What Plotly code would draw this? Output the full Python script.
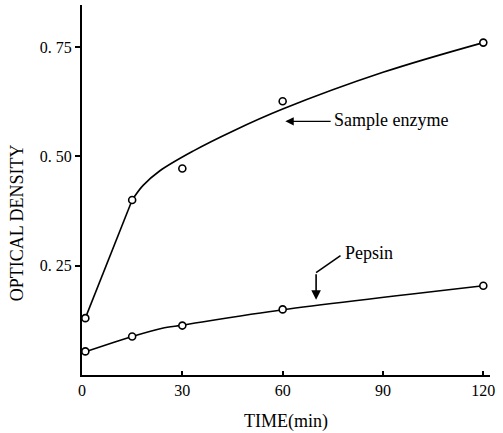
import plotly.graph_objects as go

# measured points
time_pts = [1, 15, 30, 60, 120]
enzyme_od = [0.13, 0.40, 0.472, 0.626, 0.76]
pepsin_od = [0.054, 0.088, 0.113, 0.150, 0.204]

# hand-drawn fitted curves (knots)
enzyme_line_t = [1, 15]
enzyme_line_od = [0.13, 0.40]
enzyme_curve_t = [15, 18.2, 23.3, 33.2, 45.2, 60, 90, 120]
enzyme_curve_od = [0.40, 0.433, 0.467, 0.512, 0.558, 0.608, 0.692, 0.76]
pepsin_curve_t = [1, 15, 24, 30, 60, 120]
pepsin_curve_od = [0.053, 0.088, 0.107, 0.114, 0.149, 0.204]

x_ticks = [0, 30, 60, 90, 120]
x_ticktext = ["0", "30", "60", "90", "120"]
y_ticks = [0.25, 0.50, 0.75]
y_ticktext = ["0. 25", "0. 50", "0. 75"]

FONT = "Liberation Serif"

fig = go.Figure()
fig.add_trace(go.Scatter(x=enzyme_line_t, y=enzyme_line_od, mode="lines",
                         line=dict(color="black", width=1.6),
                         hoverinfo="skip", showlegend=False))
fig.add_trace(go.Scatter(x=enzyme_curve_t, y=enzyme_curve_od, mode="lines",
                         line=dict(color="black", width=1.6, shape="spline", smoothing=1.0),
                         hoverinfo="skip", showlegend=False))
fig.add_trace(go.Scatter(x=pepsin_curve_t, y=pepsin_curve_od, mode="lines",
                         line=dict(color="black", width=1.6, shape="spline", smoothing=0.8),
                         hoverinfo="skip", showlegend=False))
for ys in (enzyme_od, pepsin_od):
    fig.add_trace(go.Scatter(x=time_pts, y=ys, mode="markers",
                             marker=dict(symbol="circle", size=7, color="white",
                                         line=dict(color="black", width=1.6)),
                             showlegend=False))

# annotation: Sample enzyme
fig.add_annotation(x=60.8, y=0.58, ax=74.8, ay=0.58, axref="x", ayref="y",
                   xref="x", yref="y", text="", showarrow=True,
                   arrowhead=2, arrowsize=1.2, arrowwidth=1.4, arrowcolor="black")
fig.add_annotation(x=74.8, y=0.582, xref="x", yref="y", text="Sample enzyme",
                   showarrow=False, xanchor="left", yanchor="middle",
                   font=dict(family=FONT, size=18, color="black"))

# annotation: Pepsin (bent arrow)
fig.add_shape(type="line", x0=77.3, y0=0.273, x1=70.0, y1=0.234,
              xref="x", yref="y", line=dict(color="black", width=1.6))
fig.add_annotation(x=70.0, y=0.172, ax=70.0, ay=0.234, axref="x", ayref="y",
                   xref="x", yref="y", text="", showarrow=True,
                   arrowhead=2, arrowsize=1.2, arrowwidth=1.6, arrowcolor="black")
fig.add_annotation(x=78.0, y=0.278, xref="x", yref="y", text="Pepsin",
                   showarrow=False, xanchor="left", yanchor="middle",
                   font=dict(family=FONT, size=18, color="black"))

# y-axis title placed like the original (below centre)
fig.add_annotation(x=0, y=0, xref="paper", yref="paper", text="OPTICAL DENSITY",
                   showarrow=False, textangle=-90, xanchor="center", yanchor="middle",
                   font=dict(family=FONT, size=18, color="black"))

fig.update_layout(
    width=503, height=433,
    margin=dict(l=82, r=13, t=5, b=55),
    paper_bgcolor="white", plot_bgcolor="white",
    font=dict(family=FONT, size=16, color="black"),
    showlegend=False,
)
ann = fig.layout.annotations[-1]
ann.x = (17 - 82) / (503 - 82 - 13)
ann.y = (433 - 55 - 225) / (433 - 55 - 5)

fig.update_xaxes(range=[0, 122], tickvals=x_ticks, ticktext=x_ticktext,
                 showgrid=False, zeroline=False, showline=True, linecolor="black",
                 linewidth=2, ticks="inside", ticklen=4, tickwidth=1.5, tickcolor="black",
                 title=dict(text="TIME(min)", font=dict(family=FONT, size=18), standoff=16),
                 tickfont=dict(family=FONT, size=16))
fig.update_yaxes(range=[0, 0.846], tickvals=y_ticks, ticktext=y_ticktext,
                 showgrid=False, zeroline=False, showline=True, linecolor="black",
                 linewidth=2, ticks="outside", ticklen=5, tickwidth=1.5, tickcolor="black",
                 tickfont=dict(family=FONT, size=16))

fig.write_html("out.html")
